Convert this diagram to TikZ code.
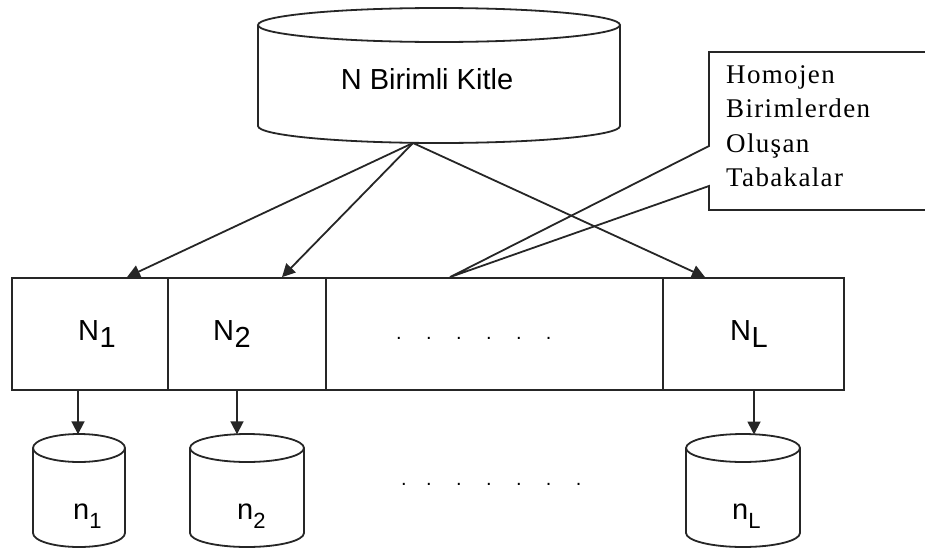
\documentclass[tikz,border=0pt]{standalone}
\usepackage{fontspec}
\setmainfont{Liberation Sans}
\newfontfamily\calloutfont[LetterSpace=5]{Liberation Serif}
\usetikzlibrary{arrows.meta}

\begin{document}
\begin{tikzpicture}[x=1pt,y=-1pt,
  ink/.style={line width=1.8pt, draw=black!85},
  arr/.style={ink, -{Triangle[length=13pt,width=13pt]}},
  cell/.style={ink, rectangle, inner sep=0pt, minimum height=112pt},
  lbl/.style={inner sep=0pt, font=\fontsize{29}{34}\selectfont},
  dots/.style={inner sep=0pt, font=\fontsize{20}{20}\selectfont, text=black},
]
\useasboundingbox (0,0) rectangle (925,549);

% population drum
\path[ink, fill=white] (258,25) -- (258,126) arc[start angle=180, end angle=0, x radius=181, y radius=17] -- (620,25);
\path[ink] (439,25) ellipse [x radius=181, y radius=17];
\node[lbl, anchor=base] (pop) at (427,89) {N Birimli Kitle};
\coordinate (apex) at (413,143);

% strata row
\node[cell, minimum width=156pt] (b1) at (90,334) {};
\node[cell, minimum width=158pt] (b2) at (247,334) {};
\node[cell, minimum width=337pt] (b3) at (494.5,334) {};
\node[cell, minimum width=181pt] (b4) at (753.5,334) {};

\node[lbl, anchor=base west] (l1) at (78,340) {N\kern0.5pt\raisebox{-7pt}{1}};
\node[lbl, anchor=base west] (l2) at (213,340) {N\kern0.5pt\raisebox{-7pt}{2}};
\node[lbl, anchor=base west] (l4) at (730,340) {N\kern0.5pt\raisebox{-7pt}{L}};
\node[dots, anchor=base west] (d1) at (396,339.5) {.\hskip24.4pt.\hskip24.4pt.\hskip24.4pt.\hskip24.4pt.\hskip24.4pt.};

% arrows from population to strata
\draw[arr] (apex) -- ([xshift=37pt]b1.north);
\draw[arr] (apex) -- ([xshift=35pt]b2.north);
\draw[arr] (apex) -- ([xshift=-48.5pt]b4.north);

% sample drums
\foreach \cx/\rx in {79/46, 247/57, 743/57}{
  \path[ink, fill=white] (\cx-\rx,448) -- (\cx-\rx,533) arc[start angle=180, end angle=0, x radius=\rx, y radius=14] -- (\cx+\rx,448);
  \path[ink] (\cx,448) ellipse [x radius=\rx, y radius=14];
}
\coordinate (s1) at (78,434.3);
\coordinate (s2) at (237,434.3);
\coordinate (s4) at (754,434.5);
\node[lbl, anchor=base west] (m1) at (73,519) {n\raisebox{-9pt}{\fontsize{22}{22}\selectfont 1}};
\node[lbl, anchor=base west] (m2) at (237,519) {n\raisebox{-9pt}{\fontsize{22}{22}\selectfont 2}};
\node[lbl, anchor=base west] (m4) at (732,519) {n\raisebox{-9pt}{\fontsize{22}{22}\selectfont L}};
\node[dots, anchor=base west] (d2) at (401,485.5) {.\hskip19.4pt.\hskip24.4pt.\hskip24.4pt.\hskip24.4pt.\hskip24.4pt.\hskip24.4pt.};

\draw[arr] ([xshift=-12pt]b1.south) -- (s1);
\draw[arr] ([xshift=-10pt]b2.south) -- (s2);
\draw[arr] ([xshift=0.5pt]b4.south) -- (s4);

% callout
\coordinate (tip) at ([xshift=-44.5pt]b3.north);
\draw[ink] (709,146) -- (709,52) -- (940,52) -- (940,210) -- (709,210) -- (709,186) -- (tip) -- cycle;
\node[anchor=north west, inner sep=0pt, align=left,
      font=\calloutfont\fontsize{27}{34.5}\selectfont] (note) at (726,65)
  {Homojen\\Birimlerden\\Oluşan\\Tabakalar};
\end{tikzpicture}
\end{document}
